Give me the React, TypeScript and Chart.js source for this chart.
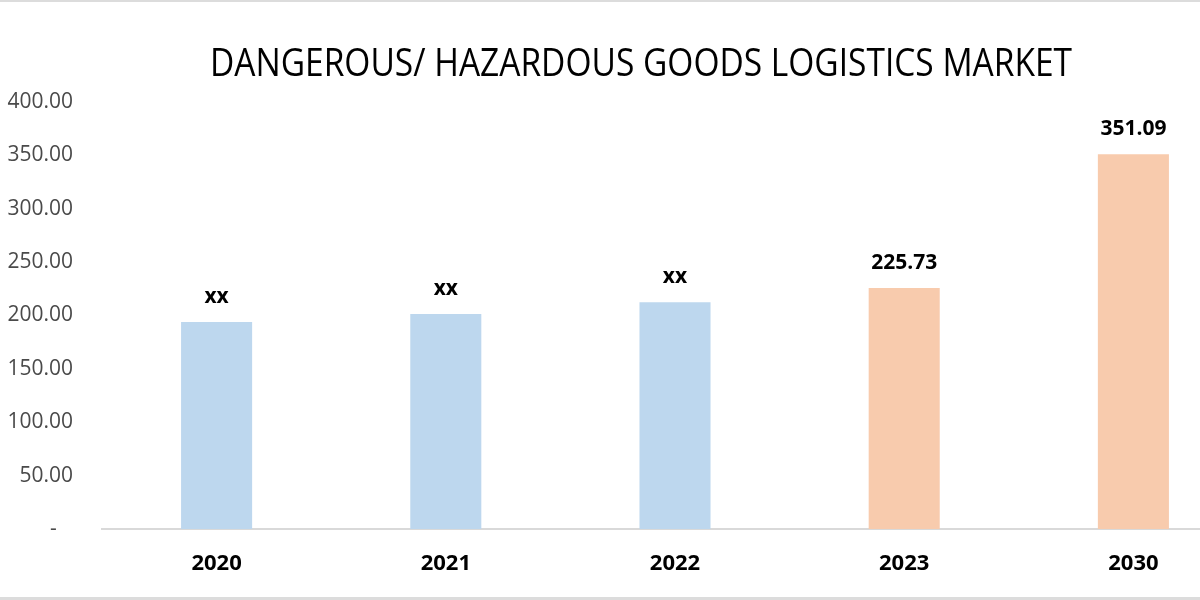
import React, { useEffect, useRef } from "react";
import { Chart, registerables } from "chart.js";

Chart.register(...registerables);

const TITLE = "DANGEROUS/ HAZARDOUS GOODS LOGISTICS MARKET";
const categories = ["2020", "2021", "2022", "2023", "2030"];
const values = [194, 201.4, 212.4, 225.73, 351.09];
const valueLabels = ["xx", "xx", "xx", "225.73", "351.09"];
const barColors = ["#bdd7ee", "#bdd7ee", "#bdd7ee", "#f8cbad", "#f8cbad"];
const yTicks = [0, 50, 100, 150, 200, 250, 300, 350, 400];

const titlePlugin = {
  id: "customTitle",
  afterDraw(chart: any) {
    const ctx = chart.ctx;
    ctx.save();
    ctx.font = "38px 'Open Sans', sans-serif";
    ctx.fillStyle = "#000000";
    ctx.textBaseline = "middle";
    ctx.textAlign = "center";
    const w = ctx.measureText(TITLE).width;
    const target = 862;
    const sx = target / w;
    ctx.translate(641, 65);
    ctx.scale(sx, 1.02);
    ctx.fillText(TITLE, 0, 0);
    ctx.restore();
  },
};

const labelPlugin = {
  id: "valueLabels",
  afterDatasetsDraw(chart: any) {
    const ctx = chart.ctx;
    const meta = chart.getDatasetMeta(0);
    ctx.save();
    ctx.font = "bold 21px 'Open Sans', sans-serif";
    ctx.fillStyle = "#000000";
    ctx.textAlign = "center";
    ctx.textBaseline = "middle";
    meta.data.forEach((bar: any, i: number) => {
      ctx.fillText(valueLabels[i], bar.x, bar.y - 25);
    });
    ctx.restore();
  },
};

export default function App() {
  const ref = useRef<HTMLCanvasElement | null>(null);
  useEffect(() => {
    if (!ref.current) return;
    const chart = new Chart(ref.current, {
      type: "bar",
      data: {
        labels: categories,
        datasets: [
          {
            data: values,
            backgroundColor: barColors,
            borderWidth: 0,
            categoryPercentage: 1,
            barPercentage: 0.31,
          },
        ],
      },
      options: {
        responsive: false,
        animation: false,
        events: [],
        layout: { padding: { top: 102, right: 2, bottom: 0, left: 0 } },
        plugins: {
          legend: { display: false },
          title: { display: false },
          tooltip: { enabled: false },
        },
        scales: {
          x: {
            grid: { display: false, drawTicks: false },
            border: { display: true, color: "#d9d9d9", width: 2 },
            ticks: {
              color: "#000000",
              font: { family: "'Open Sans', sans-serif", size: 22, weight: "bold" },
              padding: 22,
            },
            afterFit(scale: any) {
              scale.height = 71;
            },
          },
          y: {
            min: 0,
            max: 400,
            afterBuildTicks(scale: any) {
              scale.ticks = yTicks.map((v) => ({ value: v }));
            },
            grid: { display: false, drawTicks: false },
            border: { display: false },
            ticks: {
              color: "#4a4a4a",
              font: { family: "'Open Sans', sans-serif", size: 21 },
              padding: 29,
              callback: (v: any) => (Number(v) === 0 ? "-   " : Number(v).toFixed(2)),
            },
            afterFit(scale: any) {
              scale.width = 102;
            },
          },
        },
      },
      plugins: [titlePlugin, labelPlugin],
    });
    return () => chart.destroy();
  }, []);

  return (
    <div
      style={{
        position: "fixed",
        left: 0,
        top: 0,
        width: 1200,
        height: 600,
        overflow: "hidden",
        background: "#ffffff",
      }}
    >
      <canvas ref={ref} width={1250} height={600} style={{ display: "block" }} />
      <div style={{ position: "absolute", left: 0, top: 0, width: 1200, height: 2, background: "#dcdcdc" }} />
      <div style={{ position: "absolute", left: 0, top: 597, width: 1200, height: 3, background: "#dcdcdc" }} />
    </div>
  );
}
